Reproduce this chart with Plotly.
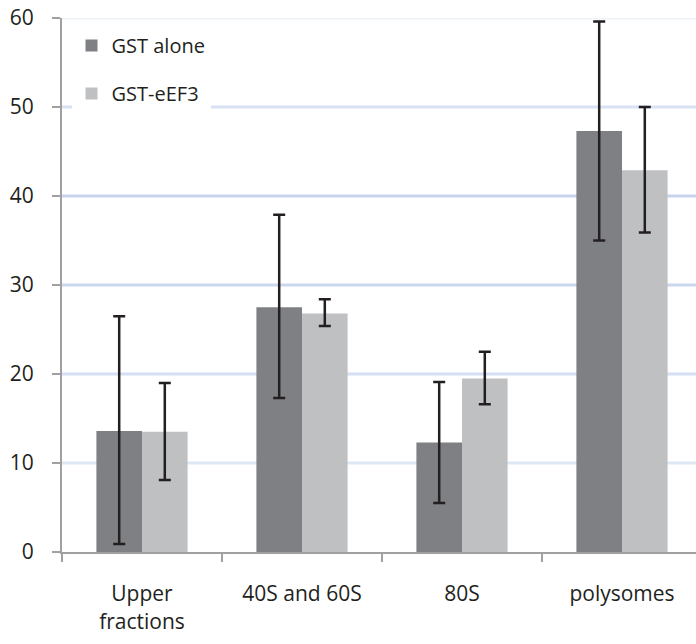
import plotly.graph_objects as go

categories = ["Upper<br>fractions", "40S and 60S", "80S", "polysomes"]
gst_alone = [13.6, 27.5, 12.3, 47.3]
gst_alone_err_plus = [12.9, 10.4, 6.8, 12.3]
gst_alone_err_minus = [12.7, 10.2, 6.8, 12.3]
gst_eef3 = [13.5, 26.8, 19.5, 42.9]
gst_eef3_err_plus = [5.5, 1.6, 3.0, 7.1]
gst_eef3_err_minus = [5.4, 1.4, 2.9, 7.0]
y_ticks = [0, 10, 20, 30, 40, 50, 60]
grid_colors = ["#e3e9f6", "#dfe7f5", "#d5dff3", "#cbd6ef", "#c8d4ee", "#d9e2f3", "#eef2f9"]

font_family = "Open Sans, Noto Sans, Liberation Sans, sans-serif"
text_color = "#231f20"

fig = go.Figure()
fig.add_trace(go.Bar(
    x=categories, y=gst_alone, name="GST alone",
    marker=dict(color="#7f8084", line=dict(width=0)),
    error_y=dict(type="data", symmetric=False, array=gst_alone_err_plus,
                 arrayminus=gst_alone_err_minus, color="#231f20", thickness=2.5, width=6),
    legendgroup="a",
))
fig.add_trace(go.Bar(
    x=categories, y=gst_eef3, name="GST-eEF3",
    marker=dict(color="#bfc0c2", line=dict(width=0)),
    error_y=dict(type="data", symmetric=False, array=gst_eef3_err_plus,
                 arrayminus=gst_eef3_err_minus, color="#231f20", thickness=2.5, width=6),
    legendgroup="b",
))

for v, c in zip(y_ticks[1:], grid_colors[1:]):
    fig.add_shape(type="line", xref="paper", x0=0, x1=1, yref="y", y0=v, y1=v,
                  line=dict(color=c, width=3), layer="below")

fig.update_layout(
    width=696, height=644,
    margin=dict(l=62, r=0, t=18, b=92),
    paper_bgcolor="white", plot_bgcolor="white",
    barmode="group", bargap=0.43, bargroupgap=0,
    font=dict(family=font_family, size=21, color=text_color),
    showlegend=True,
    legend=dict(x=0.015, y=0.985, xanchor="left", yanchor="top", bgcolor="white",
                font=dict(size=20, color=text_color), traceorder="grouped",
                tracegroupgap=19, itemwidth=30),
    xaxis=dict(type="category", range=[-0.5, 3.4625], showgrid=False,
               showline=True, linecolor="#a0a0a0", linewidth=2,
               ticks="outside", ticklen=8, tickcolor="#a0a0a0", tickwidth=1.5,
               tickson="boundaries", ticklabelstandoff=22,
               tickfont=dict(size=21, color=text_color)),
    yaxis=dict(range=[0, 60], tickvals=y_ticks, showgrid=False, zeroline=False,
               showline=True, linecolor="#a0a0a0", linewidth=2,
               ticks="outside", ticklen=8, tickcolor="#a0a0a0", tickwidth=1.5,
               ticklabelstandoff=14,
               tickfont=dict(size=21, color=text_color)),
)

fig.write_html("out.html")
